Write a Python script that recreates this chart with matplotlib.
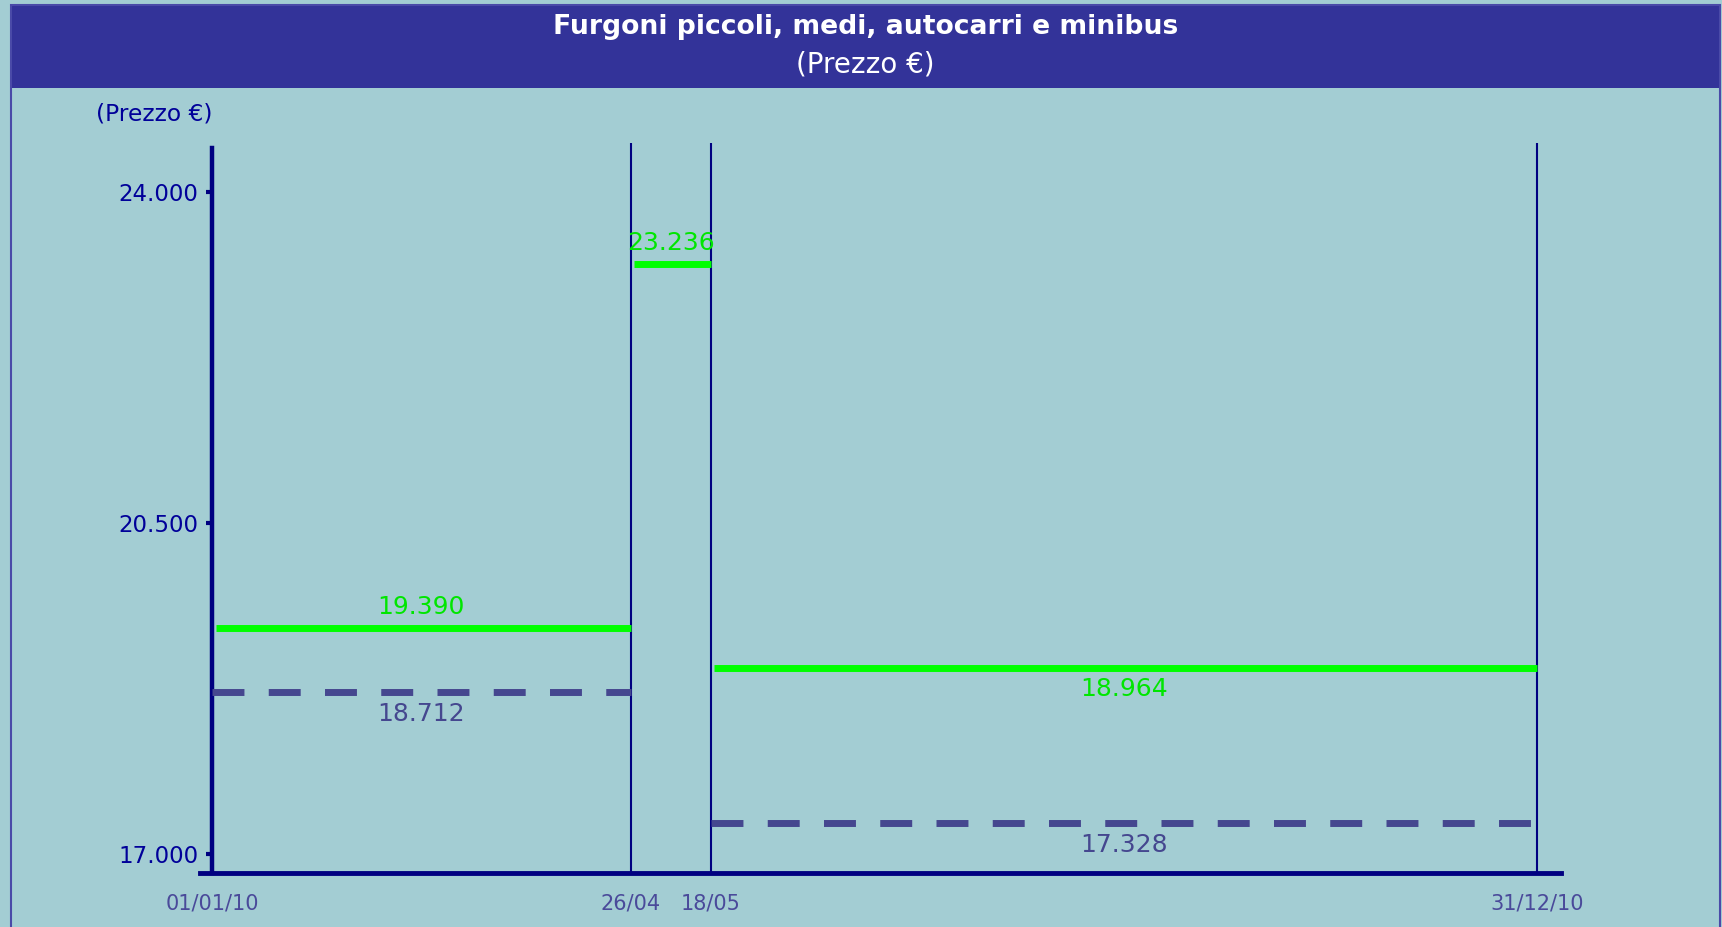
import datetime as dt
import matplotlib
matplotlib.use('Agg')
import matplotlib.pyplot as plt
import matplotlib.dates as mdates
from matplotlib.patches import Rectangle

# price periods (start / end of each one)
period_start = ['2010-01-01', '2010-04-26', '2010-05-18']
period_end = ['2010-04-26', '2010-05-18', '2010-12-31']
listino = [19390, 23236, 18964]       # green solid lines
prezzo = [18712, None, 17328]         # dashed lines (no value in the short period)
listino_side = [1, 1, -1]             # label above (1) or below (-1) the line

tick_dates = ['2010-01-01', '2010-04-26', '2010-05-18', '2010-12-31']
tick_labels = ['01/01/10', '26/04', '18/05', '31/12/10']
y_ticks = [17000, 20500, 24000]
y_tick_labels = ['17.000', '20.500', '24.000']

BG = '#a3cdd3'
BAND = '#333399'
NAVY = '#000080'
GREEN = '#00ff00'
GREEN_TXT = '#00e600'
SLATE = '#45478f'


def to_num(s):
    return mdates.date2num(dt.datetime.strptime(s, '%Y-%m-%d'))


def fmt(v):
    return f'{v:,}'.replace(',', '.')


fig = plt.figure(figsize=(17.22, 9.27), dpi=100, facecolor=BG)
W, H = 1722, 927

# title band and frame
fig.patches.append(Rectangle((11 / W, 1 - 88 / H), 1709 / W, 83 / H,
                             transform=fig.transFigure, facecolor=BAND,
                             edgecolor='none', zorder=0))
fig.patches.append(Rectangle((11 / W, -0.02), 1709 / W, 1.02 - 5 / H,
                             transform=fig.transFigure, fill=False,
                             edgecolor='#4a4aa8', lw=1.5, zorder=1))
fig.text(0.5025, 1 - 27.5 / H, 'Furgoni piccoli, medi, autocarri e minibus',
         color='white', fontsize=19.2, fontweight='bold', ha='center', va='center')
fig.text(0.5025, 1 - 65 / H, '(Prezzo €)', color='white', fontsize=20,
         ha='center', va='center')

ax = fig.add_axes([212 / W, 1 - 873 / H, 1349 / W, 730 / H])
ax.set_facecolor('none')

x0 = to_num('2010-01-01')
ax.set_xlim(x0, x0 + 370.5)
ax.set_ylim(16799, 24518)

for s, e, v, side in zip(period_start, period_end, listino, listino_side):
    xs, xe = to_num(s), to_num(e)
    ax.plot([xs + 1, xe], [v, v], color=GREEN, lw=5, solid_capstyle='butt', zorder=3)
    ax.annotate(fmt(v), ((xs + xe) / 2, v), xytext=(0, 15 * side),
                textcoords='offset points', ha='center', va='center',
                color=GREEN_TXT, fontsize=18)

for s, e, v in zip(period_start, period_end, prezzo):
    if v is None:
        continue
    xs, xe = to_num(s), to_num(e)
    ax.plot([xs, xe], [v, v], color=SLATE, lw=5, linestyle=(0, (4.6, 3.5)),
            dash_capstyle='butt', zorder=3)
    ax.annotate(fmt(v), ((xs + xe) / 2, v), xytext=(0, -16),
                textcoords='offset points', ha='center', va='center',
                color=SLATE, fontsize=18)

for d in tick_dates[1:]:
    ax.axvline(to_num(d), color=NAVY, lw=1.5, zorder=2)

for side in ['top', 'right']:
    ax.spines[side].set_visible(False)
ax.spines['left'].set_color(NAVY)
ax.spines['left'].set_linewidth(3.2)
ax.spines['left'].set_bounds(16799, 24465)
ax.spines['bottom'].set_color(NAVY)
ax.spines['bottom'].set_linewidth(3.5)
ax.spines['bottom'].set_bounds(x0 - 3.3, x0 + 370.5)

ax.set_yticks(y_ticks)
ax.set_yticklabels(y_tick_labels)
ax.tick_params(axis='y', length=4, width=3, color=NAVY, labelcolor='#000099',
               labelsize=16.5, pad=6)
ax.set_xticks([to_num(d) for d in tick_dates])
ax.set_xticklabels(tick_labels)
ax.tick_params(axis='x', length=0, labelcolor='#4a4a9a', labelsize=15, pad=15)

fig.text(212 / W, 1 - 114 / H, '(Prezzo €)', color='#000099', fontsize=16.8,
         ha='right', va='center')

fig.savefig('out.png', dpi=100, facecolor=BG)
